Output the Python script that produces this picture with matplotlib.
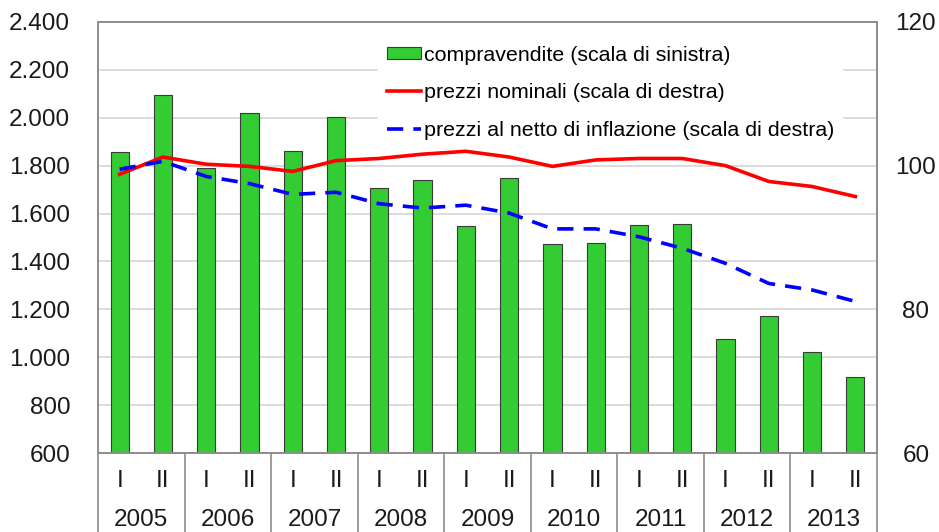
import matplotlib
matplotlib.use('Agg')
import matplotlib.pyplot as plt
import matplotlib.transforms as mtransforms
from matplotlib.ticker import FuncFormatter

plt.rcParams['font.family'] = ['Liberation Sans', 'DejaVu Sans']

# data
years = ['2005', '2006', '2007', '2008', '2009', '2010', '2011', '2012', '2013']
halves = ['I', 'II']
compravendite = [1855, 2095, 1790, 2020, 1860, 2005, 1705, 1740, 1548, 1748,
                 1473, 1477, 1551, 1555, 1076, 1173, 1023, 916]
prezzi_nominali = [98.8, 101.2, 100.2, 99.9, 99.2, 100.7, 101.0, 101.6, 102.0, 101.2,
                   99.9, 100.8, 101.0, 101.0, 100.0, 97.8, 97.1, 95.7]
prezzi_reali = [99.5, 100.6, 98.5, 97.5, 96.0, 96.3, 94.7, 94.1, 94.5, 93.4,
                91.2, 91.2, 90.1, 88.5, 86.4, 83.6, 82.7, 81.1]

labels_leg = ['compravendite (scala di sinistra)',
              'prezzi nominali (scala di destra)',
              'prezzi al netto di inflazione (scala di destra)']

n = len(compravendite)
x = list(range(n))
grey = '#8c8c8c'
fs = 17.5

fig = plt.figure(figsize=(9.39, 5.32), dpi=100)
ax = fig.add_axes([98 / 939, 79 / 532, 779 / 939, 431 / 532])
ax2 = ax.twinx()

# bars, left scale
bars = ax.bar(x, compravendite, width=0.42, color='#33cc33', edgecolor='#3a3a3a',
              linewidth=0.8, zorder=3, label=labels_leg[0])
ax.set_ylim(600, 2400)
ax.set_yticks(range(600, 2401, 200))
ax.yaxis.set_major_formatter(FuncFormatter(lambda v, p: f'{int(v):,}'.replace(',', '.')))
ax.grid(axis='y', color='#d9d9d9', linewidth=1.3, zorder=0)
ax.set_axisbelow(True)
ax.set_xlim(-0.5, n - 0.5)
ax.set_xticks([])
ax.tick_params(axis='y', length=0, pad=20, labelsize=fs, colors='#1a1a1a')

# lines, right scale
l1, = ax2.plot(x, prezzi_nominali, color='#ff0000', linewidth=2.6, zorder=6,
               label=labels_leg[1])
l2, = ax2.plot(x, prezzi_reali, color='#0000ff', linewidth=2.6, linestyle=(0, (4.5, 2.8)),
               zorder=6, label=labels_leg[2])
ax2.set_ylim(60, 120)
ax2.set_yticks([60, 80, 100, 120])
ax2.tick_params(axis='y', length=0, pad=28, labelsize=fs, colors='#1a1a1a')
for t in ax2.get_yticklabels():
    t.set_horizontalalignment('center')

for a in (ax, ax2):
    for s in a.spines.values():
        s.set_color(grey)
        s.set_linewidth(1.2)

# category axis: halves, years, separators
trans = mtransforms.blended_transform_factory(ax.transData, ax.transAxes)
for i in x:
    ax.text(i, -0.066, halves[i % 2], transform=trans, ha='center', va='center',
            fontsize=fs, color='#1a1a1a')
for k, yr in enumerate(years):
    ax.text(2 * k + 0.5, -0.155, yr, transform=trans, ha='center', va='center',
            fontsize=fs, color='#1a1a1a')
for k in range(len(years) + 1):
    ax.plot([2 * k - 0.5, 2 * k - 0.5], [0, -0.25], transform=trans, color=grey,
            linewidth=1.2, clip_on=False)

leg = ax2.legend([bars, l1, l2], labels_leg, loc='upper left',
                 bbox_to_anchor=(265 / 779, 1.0), fontsize=15.4, frameon=True,
                 facecolor='white', edgecolor='none', framealpha=1, fancybox=False,
                 handlelength=1.6, handleheight=0.55, handletextpad=0.15,
                 labelspacing=0.87, borderpad=0.4, borderaxespad=0.7)
leg.set_zorder(5)

fig.savefig('out.png', dpi=100)
